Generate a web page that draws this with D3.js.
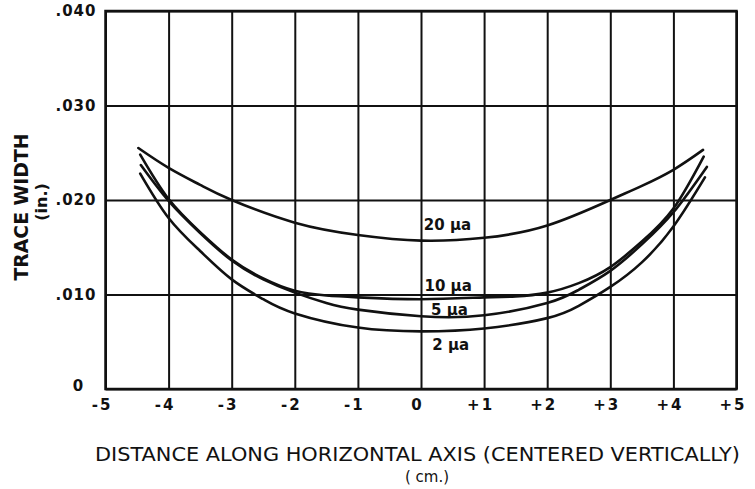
<!DOCTYPE html>
<html>
<head>
<meta charset="utf-8">
<script src="https://cdn.jsdelivr.net/npm/d3@7"></script>
<style>
  body { margin: 0; background: #fff; }
  text { font-family: "DejaVu Sans", "Liberation Sans", Arial, sans-serif; fill: #111; }
</style>
</head>
<body>
<div id="chart"></div>
<script>
// data (x in cm, trace width in inches)
const xTicks = [-5, -4, -3, -2, -1, 0, 1, 2, 3, 4, 5]
const xTickLabels = ["-5", "-4", "-3", "-2", "-1", "0", "+1", "+2", "+3", "+4", "+5"]
const yTicks = [0, 0.010, 0.020, 0.030, 0.040]
const yTickLabels = ["0", ".010", ".020", ".030", ".040"]

const x20 = [-4.48, -4, -3.5, -3, -2, -1, 0, 1, 2, 3, 3.5, 4, 4.47]
const y20 = [.0255, .0234, .0216, .0200, .0176, .0163, .0157, .0160, .0173, .0200, .0215, .0232, .0253]

const x10 = [-4.45, -4, -3.5, -3, -2.5, -2, -1.5, -1, 0, 1, 1.5, 2, 2.5, 3, 3.5, 4, 4.48]
const y10 = [.0248, .0201, .0166, .0137, .0117, .0104, .0099, .0097, .0095, .0097, .0098, .0102, .0112, .0129, .0156, .0191, .0246]

const x5 = [-4.44, -4, -3.5, -3, -2.5, -2, -1.5, -1, 0, 1, 2, 2.5, 3, 3.5, 4, 4.53]
const y5 = [.0237, .0199, .0165, .0136, .0116, .0102, .0091, .0084, .0077, .0078, .0091, .0105, .0125, .0153, .0187, .0235]

const x2 = [-4.45, -4, -3.5, -3, -2.5, -2, -1, 0, 1, 2, 2.5, 3, 3.5, 4, 4.5]
const y2 = [.0228, .0181, .0146, .0116, .0095, .0080, .0065, .0061, .0064, .0075, .0088, .0108, .0134, .0172, .0224]

const seriesNames = ["20 μa", "10 μa", "5 μa", "2 μa"]
const seriesX = [x20, x10, x5, x2]
const seriesY = [y20, y10, y5, y2]
// label anchor (baseline) in data units
const labelX = [0.42, 0.43, 0.45, 0.47]
const labelY = [.0168, .0104, .0078, .0041]

// boiler plate
const svgWidth = 755
const svgHeight = 489
const margin = { top: 11, right: 18.5, bottom: 100, left: 105.5 }
const width = svgWidth - margin.left - margin.right
const height = svgHeight - margin.top - margin.bottom

const svg = d3.select("#chart")
  .append("svg")
  .attr("width", svgWidth)
  .attr("height", svgHeight)

const chartGroup = svg.append("g")
  .attr("transform", `translate(${margin.left}, ${margin.top})`)

const xScale = d3.scaleLinear().domain([-5, 5]).range([0, width])
const yScale = d3.scaleLinear().domain([0, 0.040]).range([height, 0])

// vertical grid
chartGroup.append("g")
  .attr("transform", `translate(0, ${height})`)
  .call(d3.axisBottom(xScale).tickValues(xTicks).tickSize(-height).tickFormat(""))
  .call(g => g.select(".domain").remove())
  .call(g => g.selectAll("line").attr("stroke", "#111").attr("stroke-width", 2))

// horizontal grid
chartGroup.append("g")
  .call(d3.axisLeft(yScale).tickValues(yTicks).tickSize(-width).tickFormat(""))
  .call(g => g.select(".domain").remove())
  .call(g => g.selectAll("line").attr("stroke", "#111").attr("stroke-width", 2))

// frame
chartGroup.append("rect")
  .attr("width", width)
  .attr("height", height)
  .attr("fill", "none")
  .attr("stroke", "#111")
  .attr("stroke-width", 2.5)

// x tick labels
chartGroup.append("g")
  .attr("transform", `translate(0, ${height})`)
  .call(d3.axisBottom(xScale).tickValues(xTicks).tickSize(0).tickPadding(10)
    .tickFormat((d, i) => xTickLabels[i]))
  .call(g => g.select(".domain").remove())
  .call(g => g.selectAll("text")
    .attr("dx", -4)
    .attr("font-size", 15)
    .attr("font-weight", "bold")
    .attr("letter-spacing", 2)
    .attr("font-family", "'DejaVu Sans', sans-serif")
    .attr("fill", "#111"))

// y tick labels
chartGroup.append("g")
  .call(d3.axisLeft(yScale).tickValues(yTicks).tickSize(0).tickPadding(9)
    .tickFormat((d, i) => yTickLabels[i]))
  .call(g => g.select(".domain").remove())
  .call(g => g.selectAll("text")
    .attr("font-size", 15)
    .attr("font-weight", "bold")
    .attr("letter-spacing", 1)
    .attr("font-family", "'DejaVu Sans', sans-serif")
    .attr("fill", "#111"))
  .call(g => g.selectAll(".tick").filter(d => d === 0).select("text")
    .attr("text-anchor", "middle").attr("x", -27).attr("dy", "0.1em"))

// curves
const line = d3.line()
  .x(d => xScale(d[0]))
  .y(d => yScale(d[1]))
  .curve(d3.curveNatural)

seriesX.forEach((xs, i) => {
  const pts = xs.map((v, j) => [v, seriesY[i][j]])
  chartGroup.append("path")
    .datum(pts)
    .attr("d", line)
    .attr("fill", "none")
    .attr("stroke", "#111")
    .attr("stroke-width", 2.6)
    .attr("stroke-linecap", "round")
})

// curve labels
seriesNames.forEach((name, i) => {
  chartGroup.append("text")
    .attr("x", xScale(labelX[i]))
    .attr("y", yScale(labelY[i]))
    .attr("text-anchor", "middle")
    .attr("font-size", 15)
    .attr("font-weight", "bold")
    .text(name)
})

// axis titles
svg.append("text")
  .attr("x", 95)
  .attr("y", 461)
  .attr("font-size", 19)
  .attr("textLength", 645)
  .attr("lengthAdjust", "spacingAndGlyphs")
  .text("DISTANCE ALONG HORIZONTAL AXIS (CENTERED VERTICALLY)")

svg.append("text")
  .attr("x", 427)
  .attr("y", 482)
  .attr("text-anchor", "middle")
  .attr("font-size", 15)
  .text("( cm.)")

svg.append("text")
  .attr("transform", "translate(28, 207) rotate(-90)")
  .attr("text-anchor", "middle")
  .attr("font-size", 20)
  .attr("font-weight", "bold")
  .attr("textLength", 147)
  .attr("lengthAdjust", "spacingAndGlyphs")
  .text("TRACE WIDTH")

svg.append("text")
  .attr("transform", "translate(47, 202) rotate(-90)")
  .attr("text-anchor", "middle")
  .attr("font-size", 16)
  .attr("font-weight", "bold")
  .text("(in.)")
</script>
</body>
</html>
